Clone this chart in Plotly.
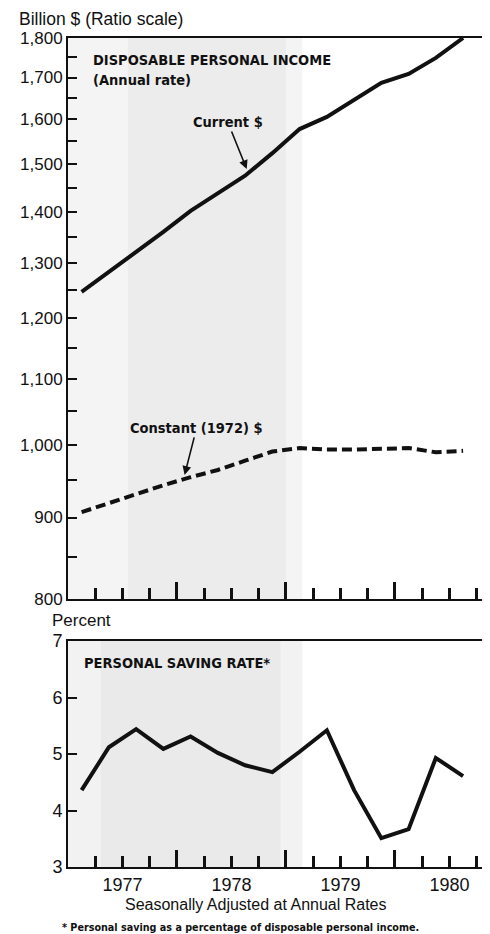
import plotly.graph_objects as go

# Quarterly data, 1977 I - 1980 III (seasonally adjusted annual rates)
QUARTERS = ["1977 I", "1977 II", "1977 III", "1977 IV",
            "1978 I", "1978 II", "1978 III", "1978 IV",
            "1979 I", "1979 II", "1979 III", "1979 IV",
            "1980 I", "1980 II", "1980 III"]
CURRENT_DPI = [1247, 1283, 1321, 1360, 1402, 1439, 1475, 1524,
               1578, 1606, 1646, 1687, 1709, 1749, 1800]
CONSTANT_DPI = [907, 919, 931, 943, 954, 964, 977, 990,
                995, 993, 993, 994, 995, 989, 991]
SAVING_RATE = [4.36, 5.12, 5.44, 5.09, 5.31, 5.02, 4.80, 4.68,
               5.04, 5.42, 4.36, 3.51, 3.67, 4.93, 4.61]

YEARS = [1977, 1978, 1979, 1980]
DPI_TICKS = [800, 900, 1000, 1100, 1200, 1300, 1400, 1500, 1600, 1700, 1800]
DPI_MINOR = [850, 950, 1050, 1150, 1250, 1350, 1450, 1550, 1650, 1750]
RATE_TICKS = [3, 4, 5, 6, 7]

SANS = "Liberation Sans, Arial, sans-serif"
NARROW = "Liberation Sans Narrow, DejaVu Sans Condensed, Arial Narrow, sans-serif"
INK = "#111111"


def quarter_pos(label):
    year, roman = label.split()
    q = ["I", "II", "III", "IV"].index(roman)
    return int(year) + q / 4 + 0.125


x = [quarter_pos(q) for q in QUARTERS]
x_range = [1977.0, 1980.872]

# tick layout: labels at mid-year, short ticks at quarters, tall at year boundaries
quarter_ticks = [y + q / 4 for y in YEARS for q in (1, 2, 3)]
label_text = [str(y) if q == 2 else "" for y in YEARS for q in (1, 2, 3)]
year_ticks = YEARS[1:]

fig = go.Figure()
fig.add_trace(go.Scatter(x=x, y=CURRENT_DPI, mode="lines", xaxis="x", yaxis="y",
                         line=dict(color=INK, width=4)))
fig.add_trace(go.Scatter(x=x, y=CONSTANT_DPI, mode="lines", xaxis="x", yaxis="y",
                         line=dict(color=INK, width=4, dash="10px,5px")))
fig.add_trace(go.Scatter(x=x, y=SAVING_RATE, mode="lines", xaxis="x2", yaxis="y2",
                         line=dict(color=INK, width=4)))

# halftone-ish background tint
for xr, yref, col in [((1977.0, 1979.15), "y domain", "#f4f4f4"),
                      ((1977.55, 1979.0), "y domain", "#ececec"),
                      ((1977.0, 1979.15), "y2 domain", "#f2f2f2"),
                      ((1977.3, 1978.95), "y2 domain", "#eaeaea")]:
    fig.add_shape(type="rect", xref="x" if yref == "y domain" else "x2", yref=yref,
                  x0=xr[0], x1=xr[1], y0=0, y1=1, fillcolor=col, line_width=0, layer="below")

xaxis_common = dict(
    range=x_range, showline=True, linecolor=INK, linewidth=2, mirror=True,
    showgrid=False, zeroline=False,
    tickmode="array", tickvals=quarter_ticks, ticks="inside", ticklen=11,
    tickwidth=2.5, tickcolor=INK,
    minor=dict(tickmode="array", tickvals=year_ticks, ticks="inside", ticklen=17,
               tickwidth=2.5, tickcolor=INK, showgrid=False),
)

# page body adds an 8px offset, so the figure is 8px smaller each way
fig.update_layout(
    width=482, height=926,
    margin=dict(l=60, r=0, t=30, b=67),
    paper_bgcolor="white", plot_bgcolor="white",
    showlegend=False,
    font=dict(family=SANS, color=INK, size=16),
    xaxis=dict(**xaxis_common, anchor="y", ticktext=[""] * len(quarter_ticks)),
    xaxis2=dict(**xaxis_common, anchor="y2", ticktext=label_text,
                tickfont=dict(size=18, family=SANS)),
    yaxis=dict(type="log", domain=[0.3233, 1], range=[2.90309, 3.255273],
               tickmode="array", tickvals=DPI_TICKS,
               ticktext=[f"{v:,}" for v in DPI_TICKS],
               ticks="inside", ticklen=9, tickwidth=2, tickcolor=INK,
               minor=dict(tickmode="array", tickvals=DPI_MINOR, ticks="inside",
                          ticklen=9, tickwidth=2, tickcolor=INK, showgrid=False),
               showline=True, linecolor=INK, linewidth=2, showgrid=False,
               zeroline=False, anchor="x", tickfont=dict(size=17)),
    yaxis2=dict(domain=[0, 0.2726], range=[3, 7], tickmode="array",
                tickvals=RATE_TICKS, ticks="inside", ticklen=9, tickwidth=2,
                tickcolor=INK, showline=True, linecolor=INK, linewidth=2,
                showgrid=False, zeroline=False, anchor="x2",
                tickfont=dict(size=18)),
)

narrow = dict(family=NARROW, size=14.5, color=INK, weight="bold")
notes = [
    dict(text="Billion $ (Ratio scale)", x=-0.1209, y=1.0225, xanchor="left",
         font=dict(family=SANS, size=17.5, color=INK)),
    dict(text="Percent", x=-0.0427, y=0.2968, xanchor="left",
         font=dict(family=SANS, size=17, color=INK)),
    dict(text="DISPOSABLE PERSONAL INCOME", x=0.0545, y=0.9735, xanchor="left", font=narrow),
    dict(text="(Annual rate)", x=0.0545, y=0.9493, xanchor="left", font=narrow),
    dict(text="PERSONAL SAVING RATE*", x=0.0332, y=0.2461, xanchor="left", font=narrow),
    dict(text="Seasonally Adjusted at Annual Rates", x=0.4455, y=-0.0458,
         xanchor="center", font=dict(family=SANS, size=16, color=INK)),
    dict(text="* Personal saving as a percentage of disposable personal income.",
         x=0.4076, y=-0.0726, xanchor="center",
         font=dict(family=NARROW, size=10.7, color=INK, weight="bold")),
]
for n in notes:
    fig.add_annotation(xref="paper", yref="paper", showarrow=False, yanchor="middle", **n)

fig.add_annotation(x=1978.64, y=3.173, xref="x", yref="y", text="Current $",
                   showarrow=True, ax=-19, ay=-47, arrowhead=2, arrowsize=1.1,
                   arrowwidth=1.6, arrowcolor=INK, standoff=0, font=narrow)
fig.add_annotation(x=1978.07, y=2.981, xref="x", yref="y", text="Constant (1972) $",
                   showarrow=True, ax=12, ay=-47, arrowhead=2, arrowsize=1.1,
                   arrowwidth=1.6, arrowcolor=INK, standoff=0, font=narrow)

fig.write_html("out.html")
